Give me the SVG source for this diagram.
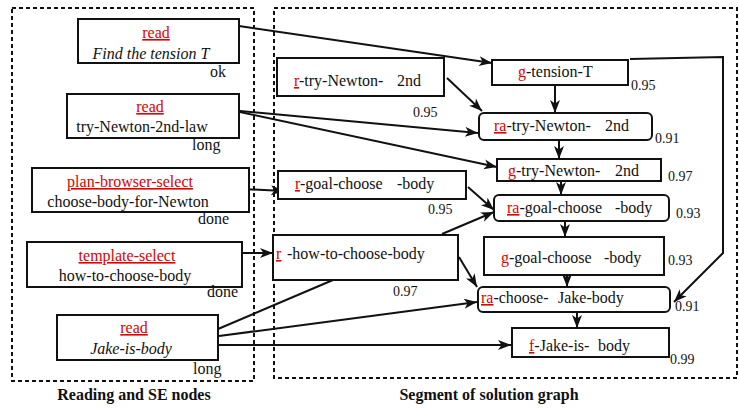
<svg xmlns="http://www.w3.org/2000/svg" width="739" height="411" viewBox="0 0 739 411">
<style>
text{font-family:"Liberation Serif","Times New Roman",serif;font-size:16px;fill:#111}
.red{fill:#e00000;text-decoration:underline}
.it{font-style:italic}
.num{font-size:14px}
.title{font-weight:bold;font-size:16px}
.box{fill:#fff;stroke:#111;stroke-width:2}
.dash{fill:none;stroke:#111;stroke-width:2;stroke-dasharray:4,3}
.c line,.c polyline{stroke:#111;stroke-width:2;fill:none}
.arr{marker-end:url(#ah)}
</style>
<defs>
<marker id="ah" markerUnits="userSpaceOnUse" markerWidth="14" markerHeight="12" refX="13" refY="5" orient="auto">
<path d="M0,0 L13,5 L0,10 L3.5,5 z" fill="#111"/>
</marker>
</defs>
<rect width="739" height="411" fill="#fff"/>
<rect class="dash" x="12" y="8" width="242" height="373"/>
<rect class="dash" x="274" y="8" width="463" height="370"/>
<text class="title" x="134" y="400" text-anchor="middle">Reading and SE nodes</text>
<text class="title" x="489" y="400" text-anchor="middle">Segment of solution graph</text>

<g class="c">
<line class="arr" x1="239" y1="26" x2="492" y2="63"/>
<line class="arr" x1="240" y1="111" x2="478" y2="133"/>
<line class="arr" x1="240" y1="112" x2="497" y2="167"/>
<line class="arr" x1="243" y1="189" x2="284" y2="191"/>
<line class="arr" x1="243" y1="253" x2="273" y2="253"/>
<line x1="218" y1="329" x2="333" y2="280"/>
<line class="arr" x1="219" y1="336" x2="477" y2="302"/>
<line class="arr" x1="218" y1="345" x2="511" y2="345"/>
<line class="arr" x1="447" y1="78" x2="482" y2="111"/>
<line class="arr" x1="555" y1="85" x2="555" y2="113"/>
<line class="arr" x1="559" y1="140" x2="559" y2="159"/>
<line class="arr" x1="561" y1="181" x2="561" y2="195"/>
<line class="arr" x1="565" y1="221" x2="565" y2="237"/>
<line class="arr" x1="567" y1="275" x2="567" y2="287"/>
<line class="arr" x1="577" y1="312" x2="577" y2="328"/>
<line class="arr" x1="468" y1="187" x2="494" y2="210"/>
<line class="arr" x1="442" y1="234" x2="494" y2="212"/>
<line class="arr" x1="459" y1="257" x2="477" y2="287"/>
<polyline class="arr" points="630,59 723,57 723,253 674,302"/>
</g>

<g id="n-read1">
<rect class="box" x="78" y="19" width="161" height="44"/>
<text class="red" x="156" y="38" text-anchor="middle">read</text>
<text class="it" x="151" y="59" text-anchor="middle">Find the tension T</text>
<text x="210" y="77">ok</text>
</g>
<g id="n-read2">
<rect class="box" x="67" y="94" width="172" height="44"/>
<text class="red" x="150" y="112" text-anchor="middle">read</text>
<text x="142" y="132" text-anchor="middle">try-Newton-2nd-law</text>
<text x="192" y="150">long</text>
</g>
<g id="n-plan">
<rect class="box" x="32" y="168" width="217" height="44"/>
<text class="red" x="130" y="187" text-anchor="middle">plan-browser-select</text>
<text x="128" y="207" text-anchor="middle">choose-body-for-Newton</text>
<text x="198" y="224">done</text>
</g>
<g id="n-template">
<rect class="box" x="27" y="242" width="215" height="45"/>
<text class="red" x="127" y="261" text-anchor="middle">template-select</text>
<text x="125" y="281" text-anchor="middle">how-to-choose-body</text>
<text x="207" y="297">done</text>
</g>
<g id="n-read3">
<rect class="box" x="57" y="315" width="161" height="45"/>
<text class="red" x="134" y="333" text-anchor="middle">read</text>
<text class="it" x="131" y="354" text-anchor="middle">Jake-is-body</text>
<text x="193" y="374">long</text>
</g>

<g id="n-r-try">
<rect class="box" x="277" y="58" width="167" height="38"/>
<text x="294" y="86"><tspan class="red">r</tspan>-try-Newton-<tspan x="397">2nd</tspan></text>
<text class="num" x="413" y="117">0.95</text>
</g>
<g id="n-g-tension">
<rect class="box" x="492" y="60" width="136" height="25"/>
<text x="518" y="77"><tspan class="red">g</tspan>-tension-T</text>
<text class="num" x="631" y="90">0.95</text>
</g>
<g id="n-ra-try">
<rect class="box" x="479" y="113" width="173" height="27" rx="5"/>
<text x="494" y="131"><tspan class="red">ra</tspan>-try-Newton-<tspan x="605">2nd</tspan></text>
<text class="num" x="655" y="143">0.91</text>
</g>
<g id="n-g-try">
<rect class="box" x="497" y="159" width="164" height="22"/>
<text x="508" y="176"><tspan class="red">g</tspan>-try-Newton-<tspan x="615">2nd</tspan></text>
<text class="num" x="668" y="181">0.97</text>
</g>
<g id="n-r-goal">
<rect class="box" x="278" y="171" width="188" height="28"/>
<text x="295" y="189"><tspan class="red">r</tspan>-goal-choose<tspan x="397">-body</tspan></text>
<text class="num" x="428" y="214">0.95</text>
</g>
<g id="n-ra-goal">
<rect class="box" x="494" y="195" width="175" height="26" rx="5"/>
<text x="507" y="213"><tspan class="red">ra</tspan>-goal-choose<tspan x="615">-body</tspan></text>
<text class="num" x="676" y="218">0.93</text>
</g>
<g id="n-g-goal">
<rect class="box" x="484" y="237" width="180" height="38"/>
<text x="501" y="263"><tspan class="red">g</tspan>-goal-choose<tspan x="604">-body</tspan></text>
<text class="num" x="668" y="265">0.93</text>
</g>
<g id="n-r-how">
<rect class="box" x="273" y="235" width="185" height="45"/>
<text x="276" y="259"><tspan class="red">r</tspan><tspan x="287">-how-to-choose-body</tspan></text>
<text class="num" x="393" y="296">0.97</text>
</g>
<g id="n-ra-choose">
<rect class="box" x="478" y="287" width="192" height="25" rx="5"/>
<text x="481" y="303"><tspan class="red">ra</tspan>-choose-<tspan x="558">Jake-body</tspan></text>
<text class="num" x="675" y="311">0.91</text>
</g>
<g id="n-f-jake">
<rect class="box" x="512" y="328" width="157" height="29"/>
<text x="529" y="351"><tspan class="red">f</tspan>-Jake-is-<tspan x="598">body</tspan></text>
<text class="num" x="670" y="364">0.99</text>
</g>
</svg>
